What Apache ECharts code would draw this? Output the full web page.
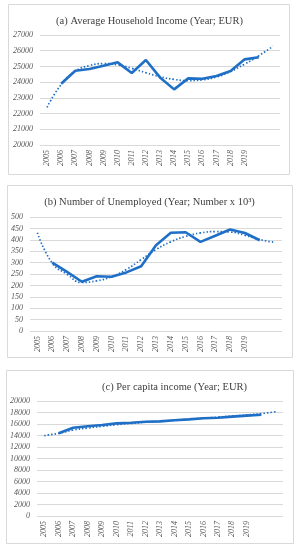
<!DOCTYPE html>
<html><head><meta charset="utf-8">
<script src="https://cdn.jsdelivr.net/npm/echarts@6/dist/echarts.min.js"></script>
<style>html,body{margin:0;padding:0;background:#fff}#c{width:299px;height:550px}</style>
</head><body><div id="c"></div>
<script>
const years = ['2005','2006','2007','2008','2009','2010','2011','2012','2013','2014','2015','2016','2017','2018','2019','',''];
const incomeActual = [null,23900,24730,24840,25050,25260,24580,25410,24300,23540,24240,24220,24390,24710,25450,25580,null];
const incomeTrend = [22400,23850,24700,25050,25180,25100,24880,24600,24350,24170,24100,24150,24330,24680,25150,25680,26280];
const unempActual = [null,300,259,216,240,238,257,284,376,431,433,391,418,445,430,398,null];
const unempTrend = [431,298,249,213,220,238,270,313,357,391,415,430,436,434,420,401,389];
const percapActual = [null,14380,15360,15600,15830,16110,16230,16400,16460,16640,16810,16990,17100,17280,17450,17620,null];
const percapTrend = [13970,14380,14950,15300,15600,15880,16100,16300,16480,16660,16840,17020,17200,17390,17580,17800,18140];
const titles = ['(a) Average Household Income (Year; EUR)','(b) Number of Unemployed (Year; Number x 10\u00b3)','(c) Per capita income (Year; EUR)'];

const blue = '#1F6FC6';
const grids = [
  {left:40, width:240, top:35, height:110},
  {left:30, width:252, top:217, height:114},
  {left:37, width:246, top:401, height:115}
];
const yAx = [
  {min:20000,max:27000,interval:1000},
  {min:0,max:500,interval:50},
  {min:0,max:20000,interval:2000}
];
const actual = [incomeActual, unempActual, percapActual];
const trend = [incomeTrend, unempTrend, percapTrend];
const labelFont = {fontFamily:'Liberation Serif', fontStyle:'italic', fontSize:8, color:'#595959'};

const chart = echarts.init(document.getElementById('c'), null, {renderer:'canvas'});
chart.setOption({
  animation:false,
  title: [
    {text:titles[0], left:'center', top:11, textStyle:{fontFamily:'Liberation Serif', fontWeight:'normal', fontSize:10.5, color:'#404040'}},
    {text:titles[1], left:'center', top:192, textStyle:{fontFamily:'Liberation Serif', fontWeight:'normal', fontSize:10.5, color:'#404040'}},
    {text:titles[2], left:97, top:377, textStyle:{fontFamily:'Liberation Serif', fontWeight:'normal', fontSize:10.5, color:'#404040'}}
  ],
  graphic: [
    {type:'rect', shape:{x:8.5,y:4.5,width:281,height:170}, style:{fill:'none', stroke:'#d9d9d9', lineWidth:1}},
    {type:'rect', shape:{x:7.5,y:185.5,width:285,height:172}, style:{fill:'none', stroke:'#d9d9d9', lineWidth:1}},
    {type:'rect', shape:{x:6.5,y:370.5,width:287,height:173}, style:{fill:'none', stroke:'#d9d9d9', lineWidth:1}}
  ],
  grid: grids,
  xAxis: grids.map((g,i)=>({
    type:'category', gridIndex:i, data:years, boundaryGap:true,
    axisLine:{show:false}, axisTick:{show:false},
    axisLabel:Object.assign({interval:0, rotate:90, margin:5}, labelFont)
  })),
  yAxis: yAx.map((y,i)=>({
    type:'value', gridIndex:i, min:y.min, max:y.max, interval:y.interval,
    axisLine:{show:false}, axisTick:{show:false},
    splitLine:{lineStyle:{color:'#d9d9d9', width:1}},
    axisLabel:Object.assign({margin:7, formatter:v=>String(v)}, labelFont)
  })),
  series: [].concat(...[0,1,2].map(i=>[
    {type:'line', xAxisIndex:i, yAxisIndex:i, data:trend[i], smooth:true, symbol:'none',
     lineStyle:{color:blue, width:1.7, type:[1.5,2]}},
    {type:'line', xAxisIndex:i, yAxisIndex:i, data:actual[i], symbol:'none', connectNulls:false,
     lineStyle:{color:blue, width:2.6}}
  ]))
});
</script></body></html>
